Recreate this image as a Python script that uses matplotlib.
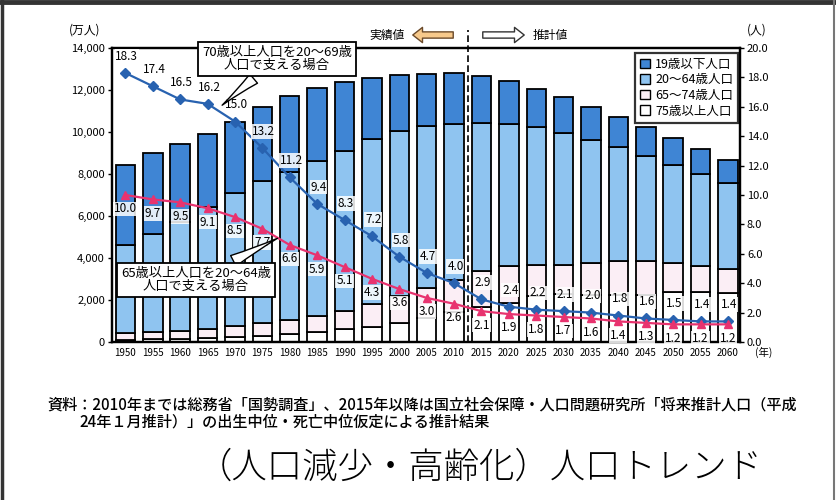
import numpy as np
import matplotlib.pyplot as plt
from matplotlib.patches import Patch
from matplotlib.lines import Line2D

plt.rcParams['font.family'] = ['Noto Sans CJK JP', 'DejaVu Sans']

years = ['1950', '1955', '1960', '1965', '1970', '1975', '1980', '1985', '1990',
         '1995', '2000', '2005', '2010', '2015', '2020', '2025', '2030', '2035',
         '2040', '2045', '2050', '2055', '2060']

# 人口（万人）
pop_75over = [107, 139, 163, 189, 224, 284, 366, 471, 597, 717, 901, 1164, 1419,
              1646, 1879, 2179, 2278, 2245, 2223, 2257, 2385, 2401, 2336]
pop_65_74 = [304, 336, 372, 429, 515, 603, 699, 776, 892, 1109, 1303, 1412, 1529,
             1749, 1733, 1478, 1407, 1496, 1645, 1599, 1383, 1225, 1128]
pop_20_64 = [4209, 4665, 5195, 5792, 6341, 6793, 7035, 7393, 7601, 7824, 7836, 7704, 7452,
             7045, 6768, 6563, 6245, 5879, 5432, 4994, 4662, 4374, 4086]
pop_19under = [3791, 3868, 3700, 3511, 3387, 3514, 3606, 3465, 3271, 2907, 2653, 2497, 2406,
               2220, 2030, 1846, 1732, 1592, 1428, 1371, 1278, 1193, 1124]

# 支える人数（人）
ratio_70 = [18.3, 17.4, 16.5, 16.2, 15.0, 13.2, 11.2, 9.4, 8.3, 7.2, 5.8, 4.7, 4.0,
            2.9, 2.4, 2.2, 2.1, 2.0, 1.8, 1.6, 1.5, 1.4, 1.4]
ratio_65 = [10.0, 9.7, 9.5, 9.1, 8.5, 7.7, 6.6, 5.9, 5.1, 4.3, 3.6, 3.0, 2.6,
            2.1, 1.9, 1.8, 1.7, 1.6, 1.4, 1.3, 1.2, 1.2, 1.2]

legend_labels = ['19歳以下人口', '20～64歳人口', '65～74歳人口', '75歳以上人口']
colors = ['#3f85d4', '#8fc4f0', '#fbeef5', '#ffffff']

W, H = 837, 500
fig = plt.figure(figsize=(W / 100, H / 100), dpi=100)
ax = fig.add_axes([112 / W, 158 / H, 628 / W, 294 / H])
x = np.arange(len(years))

# 積み上げ棒
bottom = np.zeros(len(years))
for vals, c in zip([pop_75over, pop_65_74, pop_20_64, pop_19under], colors[::-1]):
    ax.bar(x, vals, bottom=bottom, width=0.71, color=c, edgecolor='black', linewidth=1.3)
    bottom += np.array(vals)

ax.set_xlim(-0.49, 22.44)
ax.set_ylim(0, 14000)
ax.set_yticks(range(0, 14001, 2000))
ax.set_yticklabels([f'{v:,}' for v in range(0, 14001, 2000)], fontsize=8)
ax.set_xticks(x)
ax.set_xticklabels(years, fontsize=7)
ax.tick_params(axis='x', length=0, pad=4)
ax.tick_params(axis='y', length=3, width=1, pad=2)

# 実績値／推計値の区切り
ax.plot([12.5, 12.5], [0, 14850], ls=(0, (4, 2)), color='black', lw=1.2, clip_on=False)

ax2 = ax.twinx()
ax2.set_ylim(0, 20)
ax2.set_yticks(np.arange(0, 20.1, 2))
ax2.set_yticklabels([f'{v:.1f}' for v in np.arange(0, 20.1, 2)], fontsize=8)
ax2.tick_params(axis='y', length=3, width=1, pad=2)
for a in (ax, ax2):
    for s in a.spines.values():
        s.set_linewidth(1.6)

ax2.plot(x, ratio_70, color='#2862b0', lw=1.6, marker='D', ms=5, zorder=3)
ax2.plot(x, ratio_65, color='#e8336f', lw=1.6, marker='^', ms=6, zorder=3)

lab_box = dict(fc='white', ec='none', pad=0.6, alpha=0.85)
for i, v in enumerate(ratio_70):
    ax2.annotate(f'{v:.1f}', (i, v), xytext=(1, 12), textcoords='offset points',
                 ha='center', va='center', fontsize=8.5, bbox=lab_box)
for i, v in enumerate(ratio_65):
    ax2.annotate(f'{v:.1f}', (i, v), xytext=(0, -10), textcoords='offset points',
                 ha='center', va='center', fontsize=8.5, bbox=lab_box)

# 吹き出し
callout_box = dict(boxstyle='square,pad=0.3', fc='white', ec='black', lw=1.3)
callout_arrow = dict(arrowstyle='wedge,tail_width=0.9,shrink_factor=0.4', fc='white', ec='black', lw=1)
ax2.annotate('70歳以上人口を20～69歳\n人口で支える場合', xy=(220, H - 107), xycoords='figure pixels',
             xytext=(277, H - 59), textcoords='figure pixels', ha='center', va='center',
             fontsize=9.5, linespacing=1.05, bbox=callout_box, arrowprops=callout_arrow)
ax2.annotate('65歳以上人口を20～64歳\n人口で支える場合', xy=(280, H - 237), xycoords='figure pixels',
             xytext=(196, H - 280), textcoords='figure pixels', ha='center', va='center',
             fontsize=9.5, linespacing=1.05, bbox=callout_box, arrowprops=callout_arrow)

handles = [Patch(fc=c, ec='black', lw=1) for c in colors]
leg = ax2.legend(handles, legend_labels, loc='upper right', bbox_to_anchor=(738 / W, 1 - 53 / H),
                 bbox_transform=fig.transFigure, fontsize=9, frameon=True, fancybox=False,
                 handlelength=0.8, handleheight=0.8, handletextpad=0.4, labelspacing=0.2,
                 borderpad=0.4, borderaxespad=0)
leg.get_frame().set_edgecolor('black')
leg.get_frame().set_linewidth(1.6)

# 単位・見出し
fig.text(85 / W, 1 - 30 / H, '(万人)', ha='center', va='center', fontsize=8.5)
fig.text(757 / W, 1 - 30 / H, '(人)', ha='center', va='center', fontsize=8.5)
fig.text(764 / W, 1 - 352 / H, '(年)', ha='center', va='center', fontsize=7.5)
fig.text(405 / W, 1 - 35 / H, '実績値', ha='right', va='center', fontsize=8.5)
fig.text(533 / W, 1 - 35 / H, '推計値', ha='left', va='center', fontsize=8.5)
ax.annotate('', xy=(410, H - 35), xytext=(456, H - 35), xycoords='figure pixels',
            arrowprops=dict(arrowstyle='simple,head_length=0.7,head_width=1.1,tail_width=0.45',
                            fc='#f7c98b', ec='#6b4a2a', lw=1))
ax.annotate('', xy=(527, H - 35), xytext=(480, H - 35), xycoords='figure pixels',
            arrowprops=dict(arrowstyle='simple,head_length=0.7,head_width=1.1,tail_width=0.45',
                            fc='white', ec='#333333', lw=1))

fig.text(47 / W, 1 - 405 / H,
         '資料：2010年までは総務省「国勢調査」、2015年以降は国立社会保障・人口問題研究所「将来推計人口（平成',
         ha='left', va='center', fontsize=10.9, fontweight='medium')
fig.text(79 / W, 1 - 422 / H, '24年１月推計）」の出生中位・死亡中位仮定による推計結果',
         ha='left', va='center', fontsize=10.9, fontweight='medium')
fig.text(480 / W, 1 - 467 / H, '（人口減少・高齢化）人口トレンド',
         ha='center', va='center', fontsize=25.5, fontweight='light')

# 外枠
fig.add_artist(Line2D([0, 1], [1 - 2 / H, 1 - 2 / H], transform=fig.transFigure, color='#333333', lw=3.5))
fig.add_artist(Line2D([2 / W, 2 / W], [0, 1], transform=fig.transFigure, color='#333333', lw=2.5))
fig.add_artist(Line2D([1 - 3 / W, 1 - 3 / W], [0, 1], transform=fig.transFigure, color='#777777', lw=1.5))

fig.savefig('out.png', dpi=100)
